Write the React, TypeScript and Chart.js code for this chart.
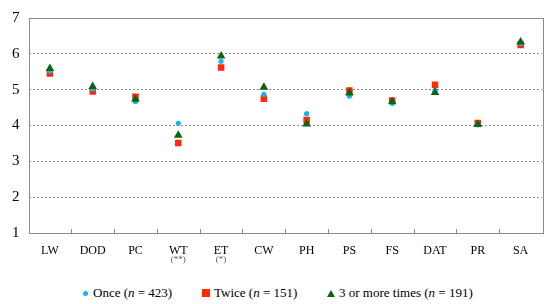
import React, { useEffect, useRef } from "react";
import { Chart, registerables } from "chart.js";

Chart.register(...registerables);

const categories = ["LW", "DOD", "PC", "WT", "ET", "CW", "PH", "PS", "FS", "DAT", "PR", "SA"];
const subLabels = ["", "", "", "(**)", "(*)", "", "", "", "", "", "", ""];
const onceValues = [5.52, 5.02, 4.67, 4.06, 5.79, 4.87, 4.33, 4.82, 4.62, 4.98, 4.02, 6.29];
const twiceValues = [5.45, 4.95, 4.8, 3.51, 5.62, 4.75, 4.15, 4.98, 4.7, 5.14, 4.07, 6.25];
const threeValues = [5.59, 5.09, 4.73, 3.73, 5.94, 5.07, 4.04, 4.91, 4.66, 4.92, 4.03, 6.33];
const yTicks = [1, 2, 3, 4, 5, 6, 7];

const SERIF = "Liberation Serif, DejaVu Serif, serif";
const CYAN = "#16B4E8";
const RED = "#FF2A00";
const GREEN = "#0A6414";

const framePlugin = {
  id: "frame",
  afterDraw(chart: any) {
    const { ctx, chartArea } = chart;
    const x = chart.scales.x;
    ctx.save();
    ctx.strokeStyle = "#8a8a8a";
    ctx.lineWidth = 1;
    ctx.strokeRect(
      Math.round(chartArea.left) + 0.5,
      Math.round(chartArea.top) + 0.5,
      Math.round(chartArea.right - chartArea.left),
      Math.round(chartArea.bottom - chartArea.top)
    );
    ctx.beginPath();
    for (let i = 1; i < categories.length; i++) {
      const px = Math.round((x.getPixelForValue(i - 1) + x.getPixelForValue(i)) / 2) + 0.5;
      ctx.moveTo(px, Math.round(chartArea.bottom));
      ctx.lineTo(px, Math.round(chartArea.bottom) - 4);
    }
    ctx.stroke();
    ctx.fillStyle = "#555";
    ctx.font = `9px ${SERIF}`;
    ctx.textAlign = "center";
    ctx.textBaseline = "middle";
    subLabels.forEach((s, i) => {
      if (s) ctx.fillText(s, x.getPixelForValue(i), chartArea.bottom + 27);
    });
    ctx.restore();
  },
};

export default function App() {
  const ref = useRef<HTMLCanvasElement>(null);
  useEffect(() => {
    const chart = new Chart(ref.current!, {
      type: "line",
      data: {
        labels: categories,
        datasets: [
          {
            label: "Once",
            data: onceValues,
            showLine: false,
            pointStyle: "circle",
            pointRadius: 2.6,
            backgroundColor: CYAN,
            borderColor: CYAN,
            borderWidth: 0,
            order: 1,
          },
          {
            label: "Twice",
            data: twiceValues,
            showLine: false,
            pointStyle: "rect",
            pointRadius: 4.6,
            backgroundColor: RED,
            borderColor: RED,
            borderWidth: 0,
            order: 2,
          },
          {
            label: "3 or more times",
            data: threeValues,
            showLine: false,
            pointStyle: "triangle",
            pointRadius: 5,
            backgroundColor: GREEN,
            borderColor: GREEN,
            borderWidth: 0,
            order: 0,
          },
        ],
      },
      options: {
        animation: false,
        responsive: false,
        devicePixelRatio: 1,
        layout: { padding: { top: 11, right: 8, left: 0, bottom: 0 } },
        plugins: { legend: { display: false }, tooltip: { enabled: false } },
        scales: {
          x: {
            offset: true,
            border: { display: false },
            grid: { display: false, drawTicks: false },
            ticks: {
              color: "#000",
              font: { family: SERIF, size: 12 },
              padding: 11,
              maxRotation: 0,
            },
            afterFit(scale: any) {
              scale.height = 37;
            },
          },
          y: {
            min: 1,
            max: 7,
            border: { display: false, dash: [2, 2] },
            afterBuildTicks(scale: any) {
              scale.ticks = yTicks.map((v) => ({ value: v }));
            },
            grid: {
              drawTicks: false,
              color: (c: any) =>
                c.tick && (c.tick.value === 1 || c.tick.value === 7) ? "rgba(0,0,0,0)" : "#8a8a8a",
              lineWidth: 1,
            },
            ticks: {
              color: "#000",
              font: { family: SERIF, size: 15 },
              padding: 9,
              stepSize: 1,
            },
            afterFit(scale: any) {
              scale.width = 28.5;
            },
          },
        },
      },
      plugins: [framePlugin],
    } as any);
    return () => chart.destroy();
  }, []);

  const legendItem = (left: number, marker: React.ReactNode, text: React.ReactNode) => (
    <div
      style={{
        position: "absolute",
        left,
        top: 284,
        height: 18,
        display: "flex",
        alignItems: "center",
        whiteSpace: "nowrap",
        fontFamily: SERIF,
        fontSize: 13,
        color: "#000",
      }}
    >
      {marker}
      <span>{text}</span>
    </div>
  );

  return (
    <div style={{ position: "fixed", left: 0, top: 0, width: 550, height: 304, background: "#fff" }}>
      <canvas ref={ref} width={550} height={270} style={{ display: "block" }} />
      {legendItem(
        83,
        <span style={{ width: 5, height: 5, borderRadius: 3, background: CYAN, display: "inline-block", marginRight: 5 }} />,
        <>Once (<i>n</i> = 423)</>
      )}
      {legendItem(
        202,
        <span style={{ width: 8, height: 8, background: RED, display: "inline-block", marginRight: 4 }} />,
        <>Twice (<i>n</i> = 151)</>
      )}
      {legendItem(
        327,
        <span
          style={{
            width: 0,
            height: 0,
            borderLeft: "4px solid transparent",
            borderRight: "4px solid transparent",
            borderBottom: `7px solid ${GREEN}`,
            display: "inline-block",
            marginRight: 4,
          }}
        />,
        <>3 or more times (<i>n</i> = 191)</>
      )}
    </div>
  );
}
